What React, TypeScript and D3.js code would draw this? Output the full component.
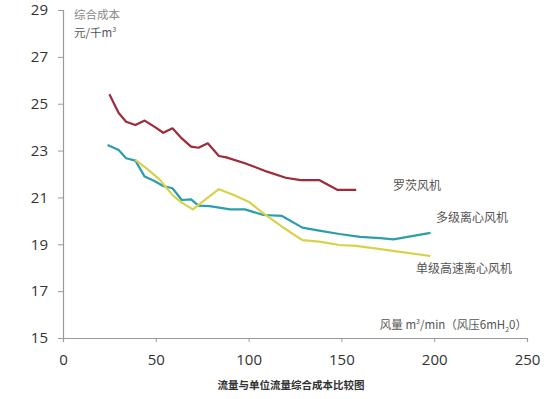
import React, { useEffect, useRef } from "react";
import * as d3 from "d3";

// 罗茨风机
const rootsX = [25, 30, 34, 39, 44, 50, 54, 59, 64, 69, 73, 78, 84, 88, 98, 110, 120, 128, 138, 148, 158];
const rootsY = [25.4, 24.6, 24.23, 24.09, 24.28, 23.98, 23.76, 23.95, 23.52, 23.17, 23.12, 23.31, 22.77, 22.71, 22.46, 22.1, 21.84, 21.74, 21.74, 21.32, 21.32];

// 多级离心风机
const multiX = [24, 30, 34, 39, 44, 49, 54, 59, 64, 69, 73, 79, 90, 98, 108, 118, 129, 138, 149, 160, 171, 178, 198];
const multiY = [23.24, 23.02, 22.67, 22.57, 21.89, 21.71, 21.49, 21.39, 20.89, 20.92, 20.65, 20.63, 20.49, 20.49, 20.25, 20.21, 19.71, 19.58, 19.44, 19.32, 19.26, 19.21, 19.49];

// 单级高速离心风机
const singleX = [39, 45, 52, 59, 64, 70, 74, 84, 92, 100, 108, 118, 129, 138, 149, 158, 171, 198];
const singleY = [22.6, 22.24, 21.77, 21.1, 20.78, 20.49, 20.75, 21.35, 21.1, 20.82, 20.32, 19.75, 19.18, 19.11, 18.97, 18.93, 18.79, 18.5];

const xTicks = [0, 50, 100, 150, 200, 250];
const yTicks = [15, 17, 19, 21, 23, 25, 27, 29];

const series = [
  { name: "罗茨风机", xs: rootsX, ys: rootsY, color: "#9e2a3a", lx: 393, ly: 190 },
  { name: "多级离心风机", xs: multiX, ys: multiY, color: "#2b9eab", lx: 436, ly: 222 },
  { name: "单级高速离心风机", xs: singleX, ys: singleY, color: "#d8d24a", lx: 416, ly: 273 },
];

function drawChart(el: SVGSVGElement) {
  const svg = d3.select(el);
  svg.selectAll("*").remove();

  const x = d3.scaleLinear().domain([0, 250]).range([63, 527]);
  const y = d3.scaleLinear().domain([15, 29]).range([338, 10]);

  const numFont = "'Open Sans', 'Liberation Sans', sans-serif";
  const cjkFont = "'Noto Sans CJK SC', sans-serif";

  // x axis
  const xAxis = svg
    .append("g")
    .attr("transform", `translate(0,${y(15)})`)
    .call(d3.axisBottom(x).tickValues(xTicks).tickSize(4).tickPadding(12));
  xAxis.select(".domain").attr("stroke", "#9a9a9a").attr("stroke-width", 1.2);
  xAxis.selectAll(".tick line").attr("stroke", "#9a9a9a");
  xAxis
    .selectAll("text")
    .attr("font-family", numFont)
    .attr("font-size", 15)
    .attr("fill", "#333");

  // y axis
  const yAxis = svg
    .append("g")
    .attr("transform", `translate(${x(0)},0)`)
    .call(d3.axisLeft(y).tickValues(yTicks).tickSize(5).tickPadding(10));
  yAxis.select(".domain").attr("stroke", "#9a9a9a").attr("stroke-width", 1.2);
  yAxis.selectAll(".tick line").attr("stroke", "#9a9a9a");
  yAxis
    .selectAll("text")
    .attr("font-family", numFont)
    .attr("font-size", 15)
    .attr("fill", "#333");

  // lines
  const line = d3
    .line<[number, number]>()
    .x((d) => x(d[0]))
    .y((d) => y(d[1]));

  series.forEach((s) => {
    const pts = s.xs.map((v, i) => [v, s.ys[i]] as [number, number]);
    svg
      .append("path")
      .attr("d", line(pts))
      .attr("fill", "none")
      .attr("stroke", s.color)
      .attr("stroke-width", 2.2)
      .attr("stroke-linejoin", "round");
    svg
      .append("text")
      .attr("x", s.lx)
      .attr("y", s.ly)
      .attr("font-family", cjkFont)
      .attr("font-size", 12)
      .attr("fill", "#555")
      .text(s.name);
  });

  // y axis title
  svg
    .append("text")
    .attr("x", 97)
    .attr("y", 19)
    .attr("text-anchor", "middle")
    .attr("font-family", cjkFont)
    .attr("font-size", 11.5)
    .attr("fill", "#888")
    .text("综合成本");
  const unit = svg
    .append("text")
    .attr("x", 95)
    .attr("y", 37)
    .attr("text-anchor", "middle")
    .attr("font-family", cjkFont)
    .attr("font-size", 11.5)
    .attr("fill", "#555");
  unit.append("tspan").text("元/千m");
  unit.append("tspan").attr("font-size", 7).attr("dy", -5).text("3");

  // x axis title
  const xt = svg
    .append("text")
    .attr("x", 527)
    .attr("y", 329)
    .attr("text-anchor", "end")
    .attr("font-family", cjkFont)
    .attr("font-size", 11.5)
    .attr("fill", "#555");
  xt.append("tspan").text("风量 m");
  xt.append("tspan").attr("font-size", 7).attr("dy", -5).text("3");
  xt.append("tspan").attr("dy", 5).text("/min（风压6mH");
  xt.append("tspan").attr("font-size", 7).attr("dy", 3).text("2");
  xt.append("tspan").attr("dy", -3).text("0）");

  // caption
  svg
    .append("text")
    .attr("x", 291)
    .attr("y", 389)
    .attr("text-anchor", "middle")
    .attr("font-family", cjkFont)
    .attr("font-size", 10.5)
    .attr("font-weight", "bold")
    .attr("fill", "#333")
    .text("流量与单位流量综合成本比较图");
}

export default function App() {
  const ref = useRef<SVGSVGElement>(null);
  useEffect(() => {
    if (ref.current) drawChart(ref.current);
  }, []);
  return (
    <svg
      ref={ref}
      width={560}
      height={399}
      style={{ position: "absolute", left: 0, top: 0, background: "#fff" }}
    />
  );
}
